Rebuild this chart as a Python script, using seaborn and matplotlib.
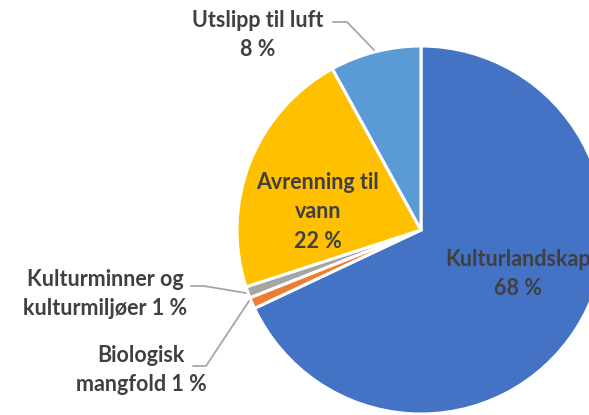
import matplotlib
matplotlib.use("Agg")
import matplotlib.pyplot as plt
import seaborn as sns

# Data (clockwise from 12 o'clock)
categories = ["Kulturlandskap", "Biologisk mangfold", "Kulturminner og kulturmiljøer",
              "Avrenning til vann", "Utslipp til luft"]
values = [68, 1, 1, 22, 8]
label_texts = ["Kulturlandskap\n68 %", "Biologisk\nmangfold 1 %", "Kulturminner og\nkulturmiljøer 1 %",
               "Avrenning til\nvann\n22 %", "Utslipp til luft\n8 %"]
colors = ["#4472C4", "#ED7D31", "#A5A5A5", "#FFC000", "#5B9BD5"]

sns.set_theme(style="white")
plt.rcParams['font.family'] = ['Lato', 'DejaVu Sans']

W, H = 589, 415
fig = plt.figure(figsize=(W / 100, H / 100), dpi=100)
ax = fig.add_axes([0, 0, 1, 1])

def py(y):
    # pixel y (from top) -> data y
    return H - y

cx, cy, r = 421, 230, 184
ax.pie(values, colors=sns.color_palette(colors), startangle=90, counterclock=False,
       center=(cx, py(cy)), radius=r,
       wedgeprops=dict(edgecolor="white", linewidth=2.2))
ax.set_xlim(0, W)
ax.set_ylim(0, H)
ax.set_aspect("equal")
ax.axis("off")

txt = dict(color="#404040", fontsize=15.5, fontweight="bold", ha="center", va="center",
           linespacing=1.5)
# inside labels (Kulturlandskap runs off the right edge, as in the original)
ax.text(518, py(274), label_texts[0], **txt)
ax.text(318, py(212), label_texts[3], **txt)
# outside labels
ax.text(258, py(35), label_texts[4], **txt)
ax.text(105, py(294), label_texts[2], **txt)
ax.text(141, py(370), label_texts[1], **txt)

# leader lines
lc = dict(color="#A6A6A6", linewidth=1.3)
ax.plot([333, 347, 374], [py(22), py(22), py(50)], **lc)
ax.plot([191, 204, 246], [py(286), py(286), py(293)], **lc)
ax.plot([193, 206, 249], [py(366), py(366), py(301)], **lc)

fig.savefig("out.png", dpi=100)
